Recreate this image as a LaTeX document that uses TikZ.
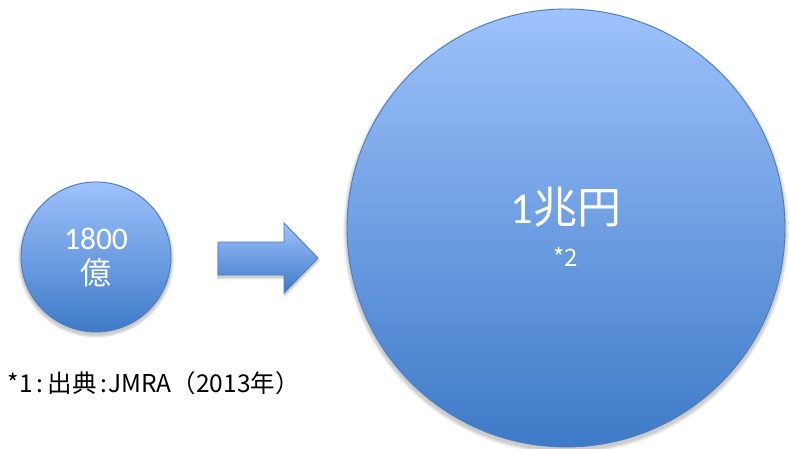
\documentclass[tikz,border=0pt]{standalone}
\usepackage{fontspec}
\setmainfont{Carlito}
\newfontfamily\cjk{Noto Sans CJK JP}
\definecolor{gtop}{RGB}{158,194,252}
\definecolor{gbot}{RGB}{62,122,200}
\definecolor{edge}{RGB}{74,126,187}
\tikzset{
  blob/.style={draw=edge, line width=0.9pt, top color=gtop, bottom color=gbot},
  lbl/.style={text=white, inner sep=0pt, anchor=base},
  note/.style={text=black, inner sep=0pt, anchor=base west, font=\fontsize{24.5}{24.5}\selectfont\cjk}
}
\begin{document}
\begin{tikzpicture}[x=1pt,y=1pt]
\useasboundingbox (0,0) rectangle (789,448);
% shadows
\foreach \k in {1,...,5}{
  \fill[black, opacity=0.045] (96,{191-2.5}) circle ({75+\k*0.7});
  \fill[black, opacity=0.045] (566,{220-3}) circle ({219+\k*0.8});
  \fill[black, opacity=0.04] ({218-\k*0.3},{206-2.5-\k*0.2}) -- ({284},{206-2.5}) -- (284,{225-2.5+\k*0.4}) -- ({318+\k*0.5},{190-2.5}) -- (284,{155-2.5-\k*0.5}) -- (284,{173-2.5-\k*0.4}) -- ({218-\k*0.3},{173-2.5-\k*0.4}) -- cycle;
}
% shapes
\node[circle, blob, minimum size=150pt, inner sep=0pt] (small) at (96,191) {};
\node[circle, blob, minimum size=438pt, inner sep=0pt] (big) at (566,220) {};
\draw[blob, line join=miter] (218,206) -- (284,206) -- (284,225) -- (318,190) -- (284,155) -- (284,173) -- (218,173) -- cycle;
% texts
\node[lbl, font=\fontsize{31.5}{31.5}\selectfont] (n1800) at (96,199) {1800};
\node[lbl, font=\fontsize{31}{31}\selectfont\cjk] (oku) at (96,164) {億};
\node[lbl, font=\fontsize{44}{44}\selectfont] (cho) at (566,225) {1{\cjk 兆円}};
\node[lbl, font=\fontsize{24}{24}\selectfont\cjk] (ast2) at (566,182) {*2};
% source note
\node[note] (src) at (7.5,56) {*1\hspace{4pt}:\hspace{4pt}出典\hspace{4pt}:\hspace{1pt}JMRA（2013年）};
\end{tikzpicture}
\end{document}
